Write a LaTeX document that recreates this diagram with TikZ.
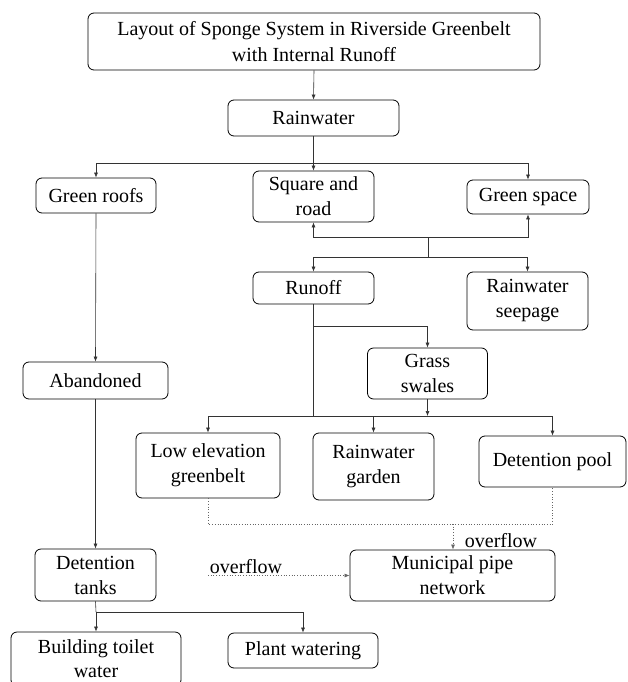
\documentclass[tikz,border=0pt]{standalone}
\usepackage{fontspec}
\setmainfont{Liberation Serif}
\usetikzlibrary{arrows.meta}
\begin{document}
\begin{tikzpicture}[x=1pt,y=-1pt,
  box/.style={draw=black, line width=0.8pt, rounded corners=6pt, align=center, inner sep=0pt,
    font=\fontsize{20}{25}\selectfont},
  conn/.style={draw=black!80, line width=0.6pt},
  arr/.style={conn, -{Latex[length=5pt,width=4pt]}},
  dots/.style={draw=black!60, line width=0.7pt, dotted},
  darr/.style={dots, -{Latex[length=5pt,width=4pt]}},
  lbl/.style={font=\fontsize{20}{25}\selectfont, inner sep=0pt}]
\useasboundingbox (0,0) rectangle (627,682);
\fill[white] (0,0) rectangle (627,682);
% nodes
\node[box, minimum width=452pt, minimum height=57pt, font=\fontsize{20}{26}\selectfont] (title) at (314,41.5) {Layout of Sponge System in Riverside Greenbelt\\with Internal Runoff};
\node[box, minimum width=171pt, minimum height=36pt] (rain) at (313.5,118) {Rainwater};
\node[box, minimum width=120pt, minimum height=35pt] (groof) at (96,195.5) {Green roofs};
\node[box, minimum width=121pt, minimum height=51pt] (square) at (313.5,196.5) {Square and\\road};
\node[box, minimum width=122pt, minimum height=34pt] (gspace) at (528,197) {Green space};
\node[box, minimum width=121pt, minimum height=32pt] (runoff) at (313.5,288) {Runoff};
\node[box, minimum width=121pt, minimum height=58pt] (seep) at (527.5,301) {Rainwater\\seepage};
\node[box, minimum width=120pt, minimum height=51pt] (swales) at (427.5,373.5) {Grass\\swales};
\node[box, minimum width=145pt, minimum height=37pt] (aband) at (95.5,380.5) {Abandoned};
\node[box, minimum width=144pt, minimum height=65pt] (low) at (208,465.5) {Low elevation\\greenbelt};
\node[box, minimum width=121pt, minimum height=67pt] (garden) at (373.5,466.5) {Rainwater\\garden};
\node[box, minimum width=147pt, minimum height=51pt] (pool) at (552.5,461.5) {Detention pool};
\node[box, minimum width=205pt, minimum height=51pt] (muni) at (452.5,575.5) {Municipal pipe\\network};
\node[box, minimum width=121pt, minimum height=52pt] (tanks) at (95.5,575) {Detention\\tanks};
\node[box, minimum width=170pt, minimum height=54pt, font=\fontsize{20}{24}\selectfont] (toilet) at (96,659) {Building toilet\\water};
\node[box, minimum width=150pt, minimum height=35pt] (plant) at (303,650.5) {Plant watering};
\node[lbl] (ovl1) at (501,541) {overflow};
\node[lbl] (ovl2) at (246,567) {overflow};
% junctions
\coordinate (j1) at (313.5,163);
\coordinate (j2) at (428,237);
\coordinate (j3) at (428,257);
\coordinate (j4) at (313.5,416);
\coordinate (j5) at (313.5,326);
\coordinate (j6) at (552.5,524);
\coordinate (j7) at (453,524);
\coordinate (j8) at (96,612);
\coordinate (ovs) at (208,575.5);
% connectors
\draw[arr] (title.south) -- (rain.north);
\draw[conn] (rain.south) -- (j1);
\draw[arr] (j1) -| (groof.north);
\draw[arr] (j1) -- (square.north);
\draw[arr] (j1) -| (gspace.north);
\draw[conn] (j3) -- (j2);
\draw[arr] (j2) -| (square.south);
\draw[arr] (j2) -| (gspace.south);
\draw[arr] (j3) -| (runoff.north);
\draw[arr] (j3) -| (seep.north);
\draw[conn] (runoff.south) -- (j4);
\draw[arr] (j5) -| (swales.north);
\draw[arr] (swales.south) -- (swales.south |- j4);
\draw[arr] (j4) -| (low.north);
\draw[arr] (j4) -| (pool.north);
\draw[arr] (garden.north |- j4) -- (garden.north);
\draw[dots] (low.south) |- (j6) -- (pool.south);
\draw[darr] (j7) -- (j7 |- muni.north);
\draw[darr] (ovs) -- (muni.west);
\draw[arr] (groof.south) -- (aband.north);
\draw[arr] (aband.south) -- (aband.south |- tanks.north);
\draw[conn] (tanks.south) -- (j8);
\draw[arr] (j8) -- (toilet.north);
\draw[arr] (j8) -| (plant.north);
\end{tikzpicture}
\end{document}
